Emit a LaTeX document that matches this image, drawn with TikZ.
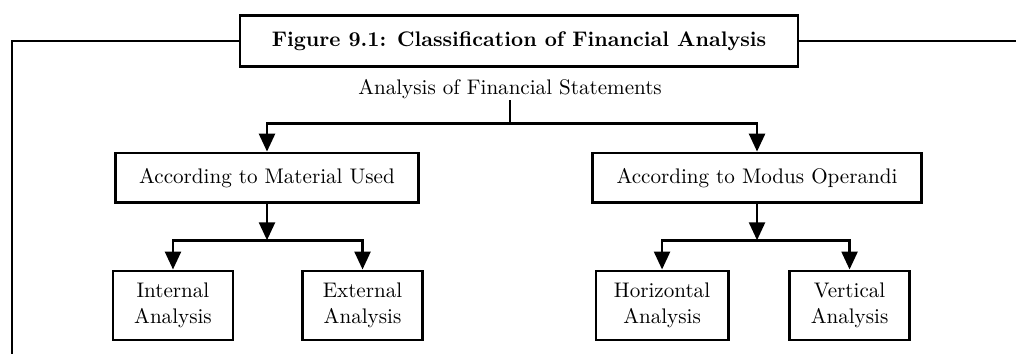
\documentclass[tikz,border=0pt]{standalone}
\usetikzlibrary{arrows.meta}
\begin{document}
\begin{tikzpicture}[node distance=2cm, auto, line width=1.35pt,
  >={Triangle[length=8.5pt,width=7.5pt]},
  box/.style={draw, minimum height=0.83cm, inner xsep=0.4cm},
  leaf/.style={draw, align=center, minimum width=2cm, minimum height=1.15cm, inner xsep=0.3cm}]
\useasboundingbox (0,0) rectangle (16.933,-5.9);
\node(title) [draw, minimum width=9.3cm, minimum height=0.85cm, font=\bfseries] at (8.65,-0.683) {Figure 9.1: Classification of Financial Analysis};
\node(stmt) [inner sep=0pt] at (8.5,-1.483) {Analysis of Financial Statements};
\node(mat) [box, below of=stmt, xshift=-4.05cm, node distance=1.483cm] {According to Material Used};
\node(mod) [box, below of=stmt, xshift=4.117cm, node distance=1.483cm] {According to Modus Operandi};
\node(int) [leaf, below of=mat, xshift=-1.567cm, node distance=2.125cm] {Internal\\Analysis};
\node(ext) [leaf, below of=mat, xshift=1.592cm, node distance=2.125cm] {External\\Analysis};
\node(hor) [leaf, below of=mod, xshift=-1.583cm, node distance=2.125cm] {Horizontal\\Analysis};
\node(ver) [leaf, below of=mod, xshift=1.542cm, node distance=2.125cm] {Vertical\\Analysis};
\coordinate(fl) at (0.2,-5.95);
\coordinate(fr) at (16.95,-0.683);
\draw(title.west) -| (fl);
\draw(title.east) -- (fr);
\draw(stmt.south) -- ++(0,-0.39) coordinate(s1);
\draw[->](s1) -| (mat);
\draw[->](s1) -| (mod);
\draw[->](mat.south) -- ++(0,-0.6) coordinate(s2);
\draw[->](s2) -| (int);
\draw[->](s2) -| (ext);
\draw[->](mod.south) -- ++(0,-0.6) coordinate(s3);
\draw[->](s3) -| (hor);
\draw[->](s3) -| (ver);
\end{tikzpicture}
\end{document}
